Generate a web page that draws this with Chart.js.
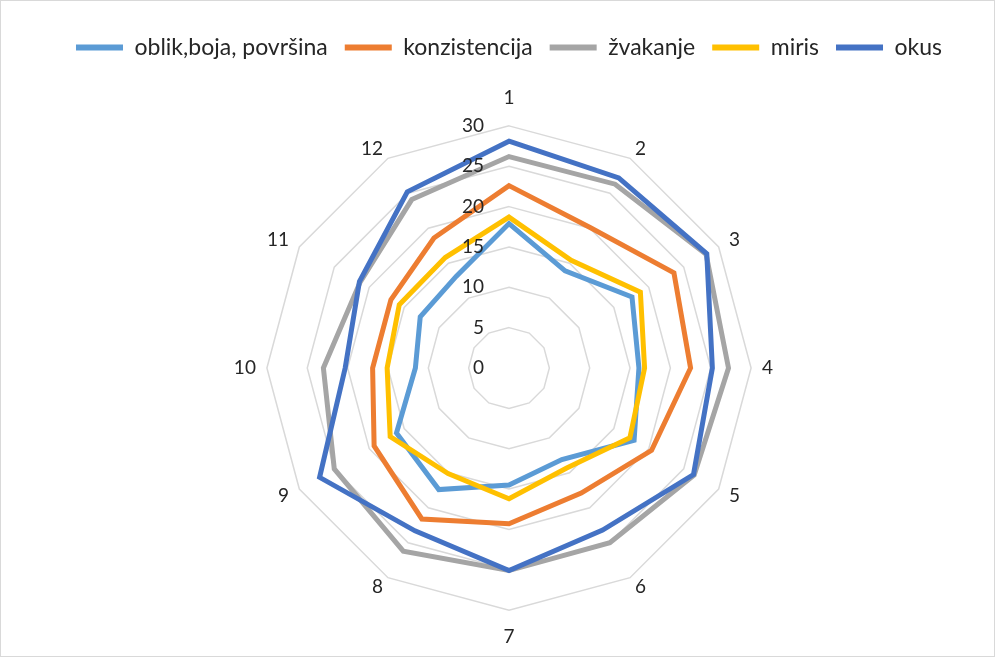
<!DOCTYPE html>
<html>
<head>
<meta charset="utf-8">
<script src="https://cdn.jsdelivr.net/npm/chart.js@4/dist/chart.umd.min.js"></script>
<style>
  html, body { margin: 0; padding: 0; background: #fff; }
  #wrap { position: relative; width: 995px; height: 657px; }
  #frame { position: absolute; left: 0; top: 0; width: 995px; height: 657px; box-sizing: border-box; border: 1px solid #d9d9d9; pointer-events: none; }
</style>
</head>
<body>
<div id="wrap">
  <canvas id="c" width="995" height="657"></canvas>
  <div id="frame"></div>
</div>
<script>
const categories = ['1','2','3','4','5','6','7','8','9','10','11','12'];
const seriesNames = ['oblik,boja, površina','konzistencija','žvakanje','miris','okus'];
const oblik       = [17.9, 13.9, 17.6, 16.1, 17.9, 13.1, 14.5, 17.4, 16.1, 11.6, 12.7, 13.1];
const konzistencija = [22.6, 20.1, 23.6, 22.5, 20.4, 17.9, 19.3, 21.6, 19.3, 16.9, 16.9, 18.6];
const zvakanje    = [26.2, 26.3, 28.2, 27.2, 26.5, 25.0, 25.1, 26.2, 25.0, 23.0, 21.3, 24.1];
const miris       = [18.7, 15.4, 18.8, 16.8, 17.3, 14.3, 16.2, 15.1, 17.0, 15.1, 15.7, 15.8];
const okus        = [28.1, 27.2, 28.3, 25.2, 26.4, 23.2, 25.1, 23.3, 27.1, 20.3, 21.4, 25.2];
const tickValues  = [0, 5, 10, 15, 20, 25, 30];
const colors = ['#5B9BD5', '#ED7D31', '#A5A5A5', '#FFC000', '#4472C4'];
const seriesValues = [oblik, konzistencija, zvakanje, miris, okus];

const FONT = 'Lato, "Open Sans", sans-serif';

const sideTicks = {
  id: 'sideTicks',
  afterDatasetsDraw(chart) {
    const s = chart.scales.r;
    const ctx = chart.ctx;
    ctx.save();
    ctx.font = '19px ' + FONT;
    ctx.fillStyle = '#262626';
    ctx.textAlign = 'right';
    ctx.textBaseline = 'middle';
    s.ticks.forEach(t => {
      const d = s.getDistanceFromCenterForValue(t.value);
      ctx.fillText(String(t.value), s.xCenter - 25, s.yCenter - d);
    });
    ctx.restore();
  }
};

const legendSpace = {
  id: 'legendSpace',
  beforeInit(chart) {
    const fit = chart.legend.fit;
    chart.legend.fit = function () {
      fit.call(this);
      this.height += 27;
    };
  }
};

new Chart(document.getElementById('c'), {
  type: 'radar',
  data: {
    labels: categories,
    datasets: seriesNames.map((name, i) => ({
      label: name,
      data: seriesValues[i],
      borderColor: colors[i],
      backgroundColor: colors[i],
      borderWidth: 5,
      pointRadius: 0,
      pointHoverRadius: 0,
      fill: false,
      tension: 0,
      borderJoinStyle: 'miter',
      borderCapStyle: 'round',
      order: seriesNames.length - i
    }))
  },
  options: {
    responsive: false,
    animation: false,
    layout: { padding: { top: 19, bottom: 18, left: 23, right: 0 } },
    plugins: {
      tooltip: { enabled: false },
      legend: {
        position: 'top',
        labels: {
          usePointStyle: true,
          pointStyle: 'line',
          pointStyleWidth: 47,
          padding: 17,
          color: '#262626',
          font: { family: FONT, size: 23 },
          generateLabels: (chart) => Chart.defaults.plugins.legend.labels.generateLabels(chart).map(l => Object.assign(l, { lineWidth: 6 })),
          sort: (a, b) => a.datasetIndex - b.datasetIndex
        }
      }
    },
    scales: {
      r: {
        min: 0,
        max: 30,
        startAngle: 0,
        ticks: { stepSize: 5, display: false },
        grid: { color: '#d9d9d9', lineWidth: 1.5 },
        angleLines: { display: false },
        pointLabels: {
          color: '#262626',
          font: { family: FONT, size: 19, lineHeight: 0.1 },
          padding: (ctx) => {
            const i = ctx.index;
            if (i === 0) return 27;
            if (i === 6) return 26;
            if (i === 3 || i === 9) return 11;
            if (i === 1 || i === 5 || i === 7 || i === 11) return 10;
            return 12;
          }
        }
      }
    }
  },
  plugins: [sideTicks, legendSpace]
});
</script>
</body>
</html>
